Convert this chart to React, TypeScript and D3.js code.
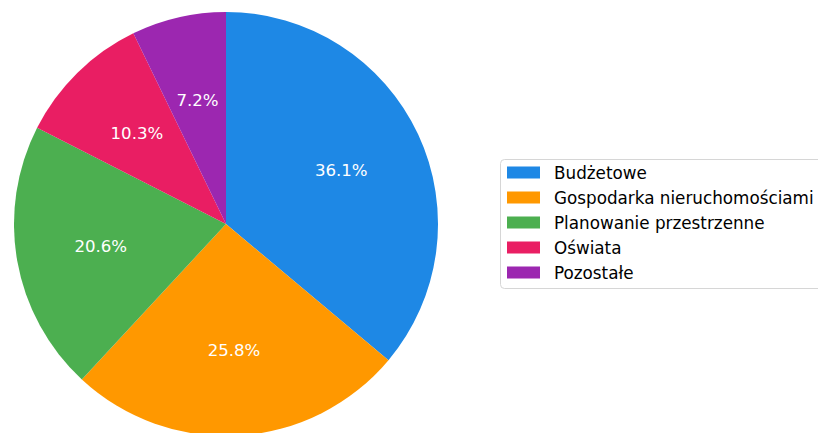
import * as d3 from "d3";

const categories = ["Budżetowe", "Gospodarka nieruchomościami", "Planowanie przestrzenne", "Oświata", "Pozostałe"];
const shares = [36.1, 25.8, 20.6, 10.3, 7.2];
const colors = ["#1E88E5", "#FF9800", "#4CAF50", "#E91E63", "#9C27B0"];

const WIDTH = 818;
const HEIGHT = 433;
const CX = 226;
const CY = 224;
const R = 212;
const FONT = "'DejaVu Sans', sans-serif";

export default function App() {
  const data = categories.map((c, i) => ({ name: c, value: shares[i], color: colors[i] }));
  const pie = d3
    .pie<{ name: string; value: number; color: string }>()
    .value((d) => d.value)
    .sort(null)
    .startAngle(0)
    .endAngle(2 * Math.PI);
  const arcs = pie(data);
  const arc = d3.arc<d3.PieArcDatum<any>>().innerRadius(0).outerRadius(R);
  const labelArc = d3.arc<d3.PieArcDatum<any>>().innerRadius(R * 0.6).outerRadius(R * 0.6);

  const legendX = 500;
  const legendY = 159;
  const rowH = 25;

  return (
    <svg width={WIDTH} height={HEIGHT} style={{ position: "absolute", left: 0, top: 0 }}>
      <rect width={WIDTH} height={HEIGHT} fill="#fff" />
      <g transform={`translate(${CX},${CY})`}>
        {arcs.map((a, i) => (
          <path key={i} d={arc(a) || ""} fill={a.data.color} />
        ))}
        {arcs.map((a, i) => {
          const [x, y] = labelArc.centroid(a);
          return (
            <text
              key={i}
              x={x}
              y={y}
              textAnchor="middle"
              dominantBaseline="central"
              fill="#fff"
              fontSize={16.6}
              fontFamily={FONT}
            >
              {a.data.value.toFixed(1)}%
            </text>
          );
        })}
      </g>
      <g transform={`translate(${legendX},${legendY})`}>
        <rect x={0.5} y={0.5} width={340} height={129} rx={4} fill="#fff" stroke="#d6d6d6" />
        {data.map((d, i) => (
          <g key={i} transform={`translate(0,${13.5 + i * rowH})`}>
            <rect x={7} y={-6} width={33} height={12} fill={d.color} />
            <text x={54} y={0} dominantBaseline="central" fontSize={16.8} fontFamily={FONT} fill="#000">
              {d.name}
            </text>
          </g>
        ))}
      </g>
    </svg>
  );
}
